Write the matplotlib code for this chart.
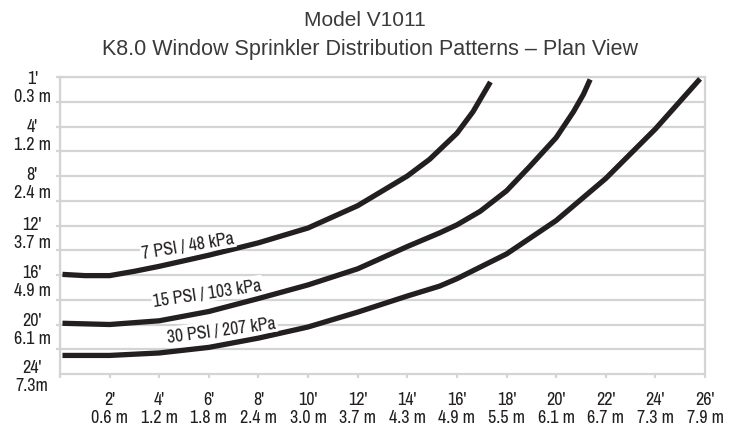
import matplotlib
matplotlib.use('Agg')
import matplotlib.pyplot as plt
from matplotlib import font_manager
import numpy as np

# Distanze (piedi)
x_7psi = [0.1, 1.0, 2, 3, 4, 6, 8, 10, 12, 14, 14.9, 16, 16.65, 17.35]
y_7psi = [15.95, 16.05, 16.05, 15.7, 15.3, 14.4, 13.4, 12.2, 10.4, 8.0, 6.65, 4.55, 2.8, 0.4]

x_15psi = [0.1, 2, 4, 6, 8, 10, 12, 14, 15.3, 16, 16.94, 18, 18.95, 20, 20.7, 21.1, 21.37]
y_15psi = [19.9, 20.0, 19.7, 18.95, 17.9, 16.8, 15.5, 13.7, 12.6, 11.95, 10.85, 9.2, 7.2, 4.9, 2.8, 1.4, 0.2]

x_30psi = [0.1, 2, 4, 6, 8, 10, 12, 14, 15.3, 16, 18, 20, 22, 24, 25.8]
y_30psi = [22.5, 22.5, 22.3, 21.85, 21.1, 20.2, 19.0, 17.7, 16.9, 16.3, 14.3, 11.6, 8.2, 4.2, 0.15]

curve_labels = ['7 PSI / 48 kPa', '15 PSI / 103 kPa', '30 PSI / 207 kPa']

x_ticks = [2, 4, 6, 8, 10, 12, 14, 16, 18, 20, 22, 24, 26]
x_labels = ["2'\n0.6 m", "4'\n1.2 m", "6'\n1.8 m", "8'\n2.4 m", "10'\n3.0 m", "12'\n3.7 m",
            "14'\n4.3 m", "16'\n4.9 m", "18'\n5.5 m", "20'\n6.1 m", "22'\n6.7 m", "24'\n7.3 m",
            "26'\n7.9 m"]
y_labels = ["1'\n0.3 m", "4'\n1.2 m", "8'\n2.4 m", "12'\n3.7 m", "16'\n4.9 m", "20'\n6.1 m",
            "24'\n7.3m"]
# le etichette y sono equidistanti nel disegno originale
y_label_pos = [0.6, 4.5, 8.4, 12.4, 16.3, 20.2, 24.0]

# cerca un font stretto, altrimenti Liberation Sans
names = sorted({f.name for f in font_manager.fontManager.ttflist})
narrow_found = [n for n in names if 'Narrow' in n or 'Condensed' in n]
if narrow_found:
    narrow = [narrow_found[0], 'DejaVu Sans']
    tick_fs, lab_fs = 13, 12.8
else:
    narrow = ['Liberation Sans', 'DejaVu Sans']
    tick_fs, lab_fs = 10, 10.2

ink = '#231f20'
gridc = '#d3d4d6'

fig = plt.figure(figsize=(7.29, 4.27), dpi=100)
ax = fig.add_axes([60/729, 1 - 375/427, 645/729, 297/427])

for xs, ys in [(x_7psi, y_7psi), (x_15psi, y_15psi), (x_30psi, y_30psi)]:
    ax.plot(xs, ys, color=ink, lw=3.8, solid_capstyle='butt', solid_joinstyle='round', zorder=3)

ax.set_xlim(0, 26)
ax.set_ylim(24, 0)

ax.set_xticks(x_ticks, labels=x_labels)
ax.set_xticks(np.arange(0, 27, 2), minor=True)
ax.set_yticks(y_label_pos, labels=y_labels)
ax.set_yticks(np.arange(0, 25, 2), minor=True)
ax.grid(True, which='minor', color=gridc, lw=1.6, zorder=0)
ax.grid(False, which='major')
ax.tick_params(axis='x', which='both', length=3, width=1.6, color=gridc, pad=9)
ax.tick_params(axis='y', which='major', length=0, pad=20)
ax.tick_params(axis='y', which='minor', length=3, width=1.6, color=gridc)

for lab in ax.get_xticklabels() + ax.get_yticklabels():
    lab.set_family(narrow)
    lab.set_fontsize(tick_fs)
    lab.set_color(ink)
    lab.set_linespacing(1.15)
for lab in ax.get_yticklabels():
    lab.set_horizontalalignment('center')

for s in ax.spines.values():
    s.set_color(gridc)
    s.set_linewidth(1.6)

# etichette sulle curve
lab_pos = [(5.16, 13.6, 9.5), (5.93, 17.4, 8.5), (6.51, 20.4, 7.5)]
for txt, (lx, ly, rot) in zip(curve_labels, lab_pos):
    ax.text(lx, ly, txt, rotation=rot, ha='center', va='center', rotation_mode='anchor',
            fontsize=lab_fs, family=narrow, color=ink, zorder=4,
            bbox=dict(boxstyle='square,pad=0.08', fc='white', ec='none'))

fig.text(365/729, 1 - 26/427, 'Model V1011', ha='center', va='baseline',
         fontsize=15, color='#3a3a3a', family='Liberation Sans')
fig.text(370/729, 1 - 54.5/427, 'K8.0 Window Sprinkler Distribution Patterns \u2013 Plan View',
         ha='center', va='baseline', fontsize=15.5, color='#3a3a3a', family='Liberation Sans')

fig.savefig('out.png', dpi=100)
